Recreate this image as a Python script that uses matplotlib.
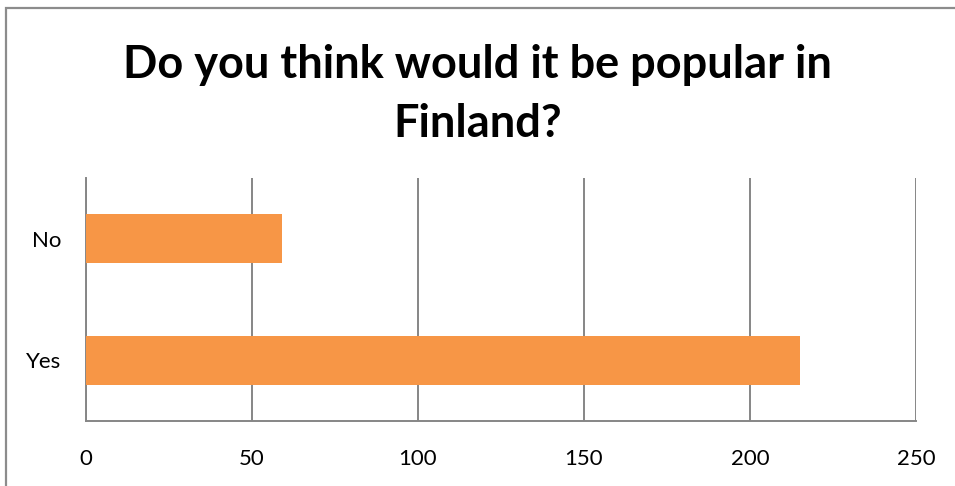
import matplotlib.pyplot as plt
from matplotlib.patches import Rectangle

categories = ['Yes', 'No']
counts = [215, 59]
xticks = [0, 50, 100, 150, 200, 250]

plt.rcParams['font.family'] = ['Lato', 'DejaVu Sans']

fig = plt.figure(figsize=(9.55, 4.86), dpi=100)
ax = fig.add_axes([0.090, 0.1337, 0.869, 0.5006])

# outer chart frame (runs off the right and bottom edges)
fig.patches.append(Rectangle((6 / 955, -0.1), 1.2, 1 - 8 / 486 + 0.1,
                             transform=fig.transFigure, fill=False,
                             edgecolor='#8c8c8c', linewidth=1.6))

ax.barh(range(len(categories)), counts, height=0.4, color='#F79646', zorder=3)

ax.set_xlim(0, 250)
ax.set_ylim(-0.5, 1.5)
ax.set_xticks(xticks)
ax.set_yticks(range(len(categories)))
ax.set_yticklabels(categories)
ax.tick_params(length=0, labelsize=16, pad=20)
ax.tick_params(axis='y', pad=18)
ax.grid(axis='x', color='#868686', linewidth=1.4, zorder=0)

for side in ['top', 'right']:
    ax.spines[side].set_visible(False)
for side in ['left', 'bottom']:
    ax.spines[side].set_color('#868686')
    ax.spines[side].set_linewidth(1.4)

fig.text(0.5, 0.805, 'Do you think would it be popular in\nFinland?',
         ha='center', va='center', fontsize=32.5, fontweight='bold',
         linespacing=1.5)

fig.savefig('out.png', dpi=100)
